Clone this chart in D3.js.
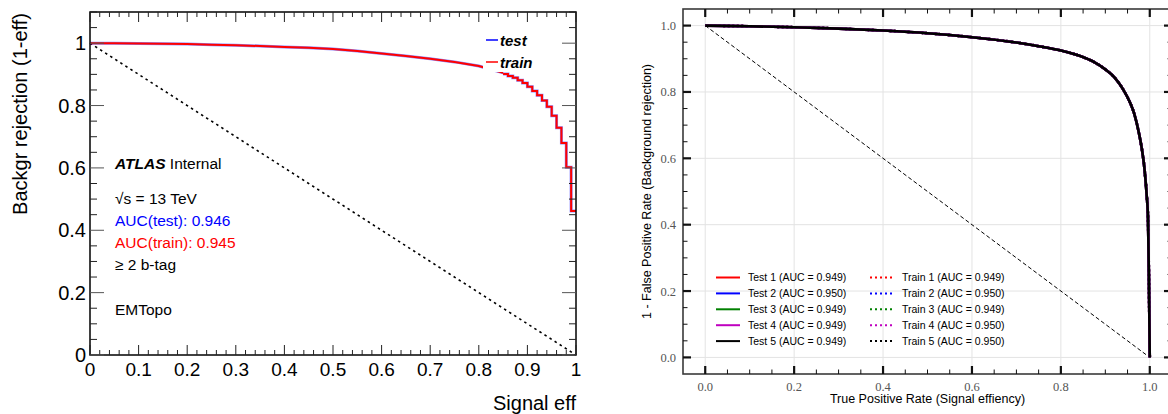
<!DOCTYPE html>
<html lang="en">
<head>
<meta charset="utf-8" />
<title>ROC curves</title>
<style>
  body { margin: 0; background: #fff; }
  svg { display: block; }
</style>
</head>
<body>
<script src="https://d3js.org/d3.v7.min.js"></script>
<script>
// ---- left panel data (test and train overlap) ----
const leftSmoothEff = [0, 0.05, 0.1, 0.15, 0.2, 0.25, 0.3, 0.35, 0.4, 0.45, 0.5, 0.55, 0.6, 0.65, 0.7, 0.75, 0.8, 0.85];
const leftSmoothRej = [1.0, 0.9995, 0.999, 0.998, 0.997, 0.995, 0.993, 0.991, 0.988, 0.985, 0.981, 0.975, 0.967, 0.959, 0.950, 0.940, 0.927, 0.905];
const leftStepEdges = [0.85, 0.86, 0.87, 0.88, 0.89, 0.90, 0.91, 0.92, 0.93, 0.94, 0.95, 0.96, 0.97, 0.98, 0.99, 1.0];
const leftStepRej   = [0.901, 0.895, 0.889, 0.881, 0.872, 0.860, 0.847, 0.833, 0.816, 0.796, 0.767, 0.729, 0.680, 0.602, 0.462];
const leftXTicks = [0, 0.1, 0.2, 0.3, 0.4, 0.5, 0.6, 0.7, 0.8, 0.9, 1];
const leftYTicks = [0, 0.2, 0.4, 0.6, 0.8, 1];
const leftInfo = [
  {text: "AUC(test): 0.946", color: "#0000ff"},
  {text: "AUC(train): 0.945", color: "#ff0000"}
];

// ---- right panel data (all folds overlap) ----
const rocTPR = [0, 0.1, 0.2, 0.3, 0.4, 0.5, 0.6, 0.7, 0.75, 0.8, 0.85, 0.875, 0.9, 0.92, 0.94, 0.955, 0.965, 0.975, 0.982, 0.988, 0.993, 0.996, 0.998, 0.999, 1.0];
const rocRej = [1.0, 0.998, 0.995, 0.991, 0.985, 0.977, 0.965, 0.949, 0.938, 0.925, 0.905, 0.89, 0.868, 0.845, 0.808, 0.77, 0.735, 0.68, 0.63, 0.57, 0.49, 0.42, 0.25, 0.12, 0.0];
const foldColors = ["#ff0000", "#0000ff", "#008000", "#bf00bf", "#000000"];
const testAUC = [0.949, 0.950, 0.949, 0.949, 0.949];
const trainAUC = [0.949, 0.950, 0.949, 0.950, 0.950];
const rightTicks = [0, 0.2, 0.4, 0.6, 0.8, 1.0];

const svg = d3.select("body").append("svg")
    .attr("width", 1168)
    .attr("height", 414);

// ================= LEFT PANEL (ROOT style) =================
const L = {left: 90, right: 576, top: 12, bottom: 355};
const lx = d3.scaleLinear().domain([0, 1]).range([L.left, L.right]);
const ly = d3.scaleLinear().domain([0, 1.1]).range([L.bottom, L.top]);
const left = svg.append("g").attr("font-family", "'Liberation Sans', Arial, sans-serif");

// diagonal
left.append("line")
    .attr("x1", lx(0)).attr("y1", ly(1))
    .attr("x2", lx(1)).attr("y2", ly(0))
    .attr("stroke", "#000").attr("stroke-width", 1.6)
    .attr("stroke-dasharray", "2.5,3.5");

const smoothPts = leftSmoothEff.map((e, i) => [e, leftSmoothRej[i]]);
const stepPts = leftStepRej.map((r, i) => [leftStepEdges[i], r]);
stepPts.push([1, leftStepRej[leftStepRej.length - 1]]);

const smoothLine = d3.line().x(d => lx(d[0])).y(d => ly(d[1]));
const stepLine = d3.line().x(d => lx(d[0])).y(d => ly(d[1])).curve(d3.curveStepAfter);

[["#0000ff", 3, 0.45], ["#ff0000", 2, 1]].forEach(([c, w, o]) => {
  left.append("path").attr("d", smoothLine(smoothPts))
      .attr("fill", "none").attr("stroke", c).attr("stroke-width", w).attr("stroke-opacity", o);
  left.append("path").attr("d", stepLine(stepPts))
      .attr("fill", "none").attr("stroke", c).attr("stroke-width", w).attr("stroke-opacity", o);
});

// legend box (white, covers curve)
left.append("rect").attr("x", 483).attr("y", 26).attr("width", 62).attr("height", 46).attr("fill", "#fff");
[["test", "#0000ff", 40], ["train", "#ff0000", 62]].forEach(([t, c, y]) => {
  left.append("line").attr("x1", 486).attr("x2", 498).attr("y1", y).attr("y2", y)
      .attr("stroke", c).attr("stroke-width", 1.5);
  left.append("text").attr("x", 500).attr("y", y + 5.5).text(t)
      .attr("font-size", 15).attr("font-weight", "bold").attr("font-style", "italic");
});

// frame
left.append("rect").attr("x", L.left).attr("y", L.top)
    .attr("width", L.right - L.left).attr("height", L.bottom - L.top)
    .attr("fill", "none").attr("stroke", "#000").attr("stroke-width", 1.5);

// ticks
const lxMinor = d3.range(0, 1.0001, 0.02);
lxMinor.forEach((v, i) => {
  const major = i % 5 === 0;
  const len = major ? 10 : 5;
  left.append("line").attr("x1", lx(v)).attr("x2", lx(v)).attr("y1", L.bottom).attr("y2", L.bottom - len)
      .attr("stroke", "#222").attr("stroke-width", 1);
  left.append("line").attr("x1", lx(v)).attr("x2", lx(v)).attr("y1", L.top).attr("y2", L.top + len)
      .attr("stroke", "#222").attr("stroke-width", 1);
});
const lyMinor = d3.range(0, 1.1001, 0.05);
lyMinor.forEach((v, i) => {
  const major = i % 4 === 0;
  const len = major ? 14 : 7;
  left.append("line").attr("y1", ly(v)).attr("y2", ly(v)).attr("x1", L.left).attr("x2", L.left + len)
      .attr("stroke", major ? "#555" : "#222").attr("stroke-width", 1);
  left.append("line").attr("y1", ly(v)).attr("y2", ly(v)).attr("x1", L.right).attr("x2", L.right - len)
      .attr("stroke", major ? "#555" : "#222").attr("stroke-width", 1);
});

left.selectAll("text.lxt").data(leftXTicks).enter().append("text")
    .attr("class", "lxt")
    .attr("x", d => lx(d)).attr("y", 376)
    .attr("text-anchor", "middle").attr("font-size", 19)
    .text(d => d3.format("~g")(d));
left.selectAll("text.lyt").data(leftYTicks).enter().append("text")
    .attr("class", "lyt")
    .attr("x", 86).attr("y", d => ly(d) + 7)
    .attr("text-anchor", "end").attr("font-size", 20)
    .text(d => d3.format("~g")(d));

left.append("text").attr("x", L.right).attr("y", 410)
    .attr("text-anchor", "end").attr("font-size", 20).text("Signal eff");
left.append("text").attr("transform", "translate(27,13) rotate(-90)")
    .attr("text-anchor", "end").attr("font-size", 20).text("Backgr rejection (1-eff)");

// annotations
const atl = left.append("text").attr("x", 115).attr("y", 169).attr("font-size", 15.5);
atl.append("tspan").attr("font-weight", "bold").attr("font-style", "italic").text("ATLAS");
atl.append("tspan").text(" Internal");
left.append("text").attr("x", 115).attr("y", 204).attr("font-size", 15.5).text("\u221As = 13 TeV");
leftInfo.forEach((d, i) => {
  left.append("text").attr("x", 115).attr("y", 226 + i * 22).attr("font-size", 15.5)
      .attr("fill", d.color).text(d.text);
});
left.append("text").attr("x", 115).attr("y", 270).attr("font-size", 15.5).text("\u2265 2 b-tag");
left.append("text").attr("x", 115).attr("y", 315).attr("font-size", 15.5).text("EMTopo");

// ================= RIGHT PANEL (matplotlib style) =================
const R = {left: 683, right: 1172, top: 9, bottom: 374};
const rx = d3.scaleLinear().domain([-0.05, 1.05]).range([R.left, R.right]);
const ry = d3.scaleLinear().domain([-0.05, 1.05]).range([R.bottom, R.top]);
const right = svg.append("g");

// grid
rightTicks.forEach(v => {
  right.append("line").attr("x1", rx(v)).attr("x2", rx(v)).attr("y1", R.top).attr("y2", R.bottom)
      .attr("stroke", "#e3e3e3").attr("stroke-width", 1);
  right.append("line").attr("y1", ry(v)).attr("y2", ry(v)).attr("x1", R.left).attr("x2", R.right)
      .attr("stroke", "#e3e3e3").attr("stroke-width", 1);
});

// diagonal
right.append("line")
    .attr("x1", rx(0)).attr("y1", ry(1)).attr("x2", rx(1)).attr("y2", ry(0))
    .attr("stroke", "#000").attr("stroke-width", 1).attr("stroke-dasharray", "4,2.5");

const rocPts = rocTPR.map((t, i) => [t, rocRej[i]]);
const rocLine = d3.line().x(d => rx(d[0])).y(d => ry(d[1])).curve(d3.curveMonotoneX);
// train (dotted) first, then test (solid) so the last fold (black) ends on top
foldColors.forEach(c => {
  right.append("path").attr("d", rocLine(rocPts)).attr("fill", "none")
      .attr("stroke", c).attr("stroke-width", 2.6).attr("stroke-dasharray", "2,2.5");
});
foldColors.forEach(c => {
  right.append("path").attr("d", rocLine(rocPts)).attr("fill", "none")
      .attr("stroke", c).attr("stroke-width", 2.6);
});

// spines
right.append("rect").attr("x", R.left).attr("y", R.top)
    .attr("width", R.right - R.left).attr("height", R.bottom - R.top)
    .attr("fill", "none").attr("stroke", "#3a3a3a").attr("stroke-width", 1.6);

// inward ticks on all sides
d3.range(-0.05, 1.0501, 0.05).forEach(raw => {
  const v = Math.round(raw * 100) / 100;
  if (v < -0.001 || v > 1.001) return;
  const major = Math.abs(Math.round(v * 5) - v * 5) < 1e-6;
  const len = major ? 8 : 4.5;
  const w = major ? 2.2 : 1;
  right.append("line").attr("x1", rx(v)).attr("x2", rx(v)).attr("y1", R.bottom).attr("y2", R.bottom - len)
      .attr("stroke", "#111").attr("stroke-width", w);
  right.append("line").attr("x1", rx(v)).attr("x2", rx(v)).attr("y1", R.top).attr("y2", R.top + len)
      .attr("stroke", "#111").attr("stroke-width", w);
  right.append("line").attr("y1", ry(v)).attr("y2", ry(v)).attr("x1", R.left).attr("x2", R.left + len)
      .attr("stroke", "#111").attr("stroke-width", w);
  right.append("line").attr("y1", ry(v)).attr("y2", ry(v)).attr("x1", R.right).attr("x2", R.right - len)
      .attr("stroke", "#111").attr("stroke-width", w);
});

right.selectAll("text.rxt").data(rightTicks).enter().append("text")
    .attr("class", "rxt")
    .attr("x", d => rx(d)).attr("y", 391)
    .attr("text-anchor", "middle").attr("font-size", 12.5)
    .attr("font-family", "'Liberation Serif', 'DejaVu Serif', serif").attr("fill", "#555")
    .text(d => d3.format(".1f")(d));
right.selectAll("text.ryt").data(rightTicks).enter().append("text")
    .attr("class", "ryt")
    .attr("x", 676).attr("y", d => ry(d) + 4.5)
    .attr("text-anchor", "end").attr("font-size", 12.5)
    .attr("font-family", "'Liberation Serif', 'DejaVu Serif', serif").attr("fill", "#555")
    .text(d => d3.format(".1f")(d));

right.append("text").attr("x", (R.left + R.right) / 2).attr("y", 403)
    .attr("text-anchor", "middle").attr("font-size", 12.5)
    .attr("font-family", "'Liberation Sans', Arial, sans-serif")
    .text("True Positive Rate (Signal effiency)");
right.append("text").attr("transform", "translate(651," + (R.top + R.bottom) / 2 + ") rotate(-90)")
    .attr("text-anchor", "middle").attr("font-size", 12.5)
    .attr("font-family", "'Liberation Sans', Arial, sans-serif")
    .text("1 - False Positive Rate (Background rejection)");

// legend
const leg = right.append("g").attr("font-family", "'Liberation Sans', Arial, sans-serif").attr("font-size", 10.5);
foldColors.forEach((c, i) => {
  const y = 277.5 + i * 15.9;
  leg.append("line").attr("x1", 716).attr("x2", 740).attr("y1", y).attr("y2", y)
      .attr("stroke", c).attr("stroke-width", 2);
  leg.append("text").attr("x", 748).attr("y", y + 3.8)
      .text("Test " + (i + 1) + " (AUC = " + testAUC[i].toFixed(3) + ")");
  leg.append("line").attr("x1", 870).attr("x2", 894).attr("y1", y).attr("y2", y)
      .attr("stroke", c).attr("stroke-width", 2).attr("stroke-dasharray", "2,3");
  leg.append("text").attr("x", 902).attr("y", y + 3.8)
      .text("Train " + (i + 1) + " (AUC = " + trainAUC[i].toFixed(3) + ")");
});
</script>
</body>
</html>
